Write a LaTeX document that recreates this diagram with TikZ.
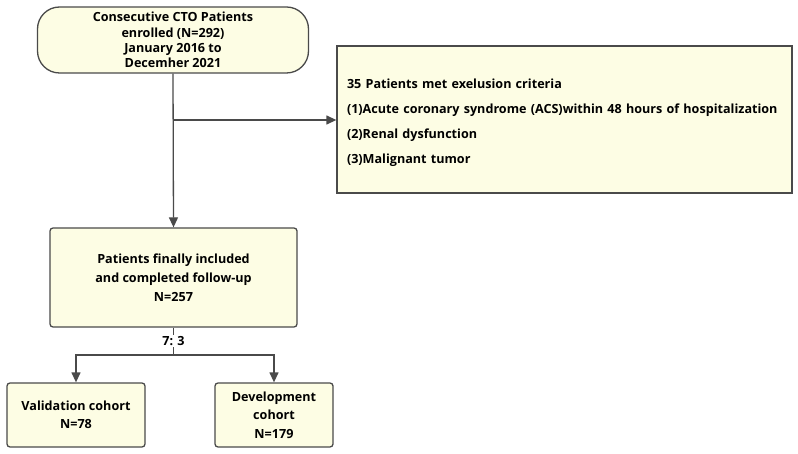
\documentclass[tikz,border=0pt]{standalone}
\usepackage{fontspec}
\setmainfont{Open Sans}[BoldFont={Open Sans Bold}]
\usetikzlibrary{arrows.meta}
\definecolor{boxfill}{HTML}{FDFDE4}
\definecolor{linecol}{HTML}{4A4A4A}
\tikzset{
  box/.style={draw=linecol, line width=1.3pt, fill=boxfill, rounded corners=3pt, font=\bfseries\fontsize{12.6}{15.3}\selectfont, align=center, inner sep=0pt},
  conn/.style={draw=linecol, line width=1.3pt},
  arr/.style={conn, -{Triangle[length=10pt,width=9pt]}},
}
\begin{document}
\begin{tikzpicture}[x=1pt,y=-1pt]
\useasboundingbox (0,0) rectangle (798,454);
% top pill
\node[box, rounded corners=22pt, minimum width=271pt, minimum height=66pt] (top) at (173,40)
  {Consecutive CTO Patients\\enrolled (N=292)\\January 2016 to\\Decemher 2021};
% exclusion box
\node[box, rounded corners=0pt, minimum width=455pt, minimum height=147pt, align=left, text width=435pt, font=\bfseries\fontsize{12.6}{25}\selectfont] (excl) at (564.5,119.5)
  {\rule{0pt}{16pt}35 Patients met exelusion criteria\\(1)Acute coronary syndrome (ACS)within 48 hours of hospitalization\\(2)Renal dysfunction\\(3)Malignant tumor};
% middle box
\node[box, minimum width=247pt, minimum height=99pt, font=\bfseries\fontsize{12.6}{19}\selectfont] (mid) at (173.5,277.5)
  {Patients finally included\\and completed follow-up\\N=257};
% bottom boxes
\node[box, minimum width=138pt, minimum height=64pt, font=\bfseries\fontsize{12.6}{18.5}\selectfont] (val) at (76,415)
  {Validation cohort\\N=78};
\node[box, minimum width=118pt, minimum height=64pt, font=\bfseries\fontsize{12.6}{18.5}\selectfont] (dev) at (274,415)
  {Development\\cohort\\N=179};
% connectors
\coordinate (br) at (top.south |- 0,120);
\draw[arr] (top.south) -- (mid.north);
\draw[arr] (br) -- (br -| excl.west);
\coordinate (split) at (mid.south |- 0,355);
\draw[conn] (mid.south) -- (split);
\draw[arr] (split) -| (val.north);
\draw[arr] (split) -| (dev.north);
\node[fill=white, inner sep=1.5pt, font=\bfseries\fontsize{12.6}{14}\selectfont] (ratio) at (173.5,341) {7:\,\,3};
\end{tikzpicture}
\end{document}
